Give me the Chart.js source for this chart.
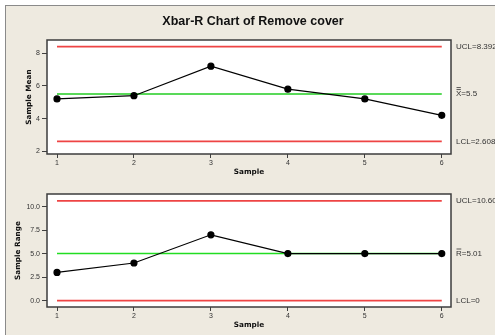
<!DOCTYPE html>
<html>
<head>
<meta charset="utf-8">
<script src="https://cdn.jsdelivr.net/npm/chart.js@4.4.1/dist/chart.umd.min.js"></script>
<style>
  html, body { margin: 0; padding: 0; background: #ffffff; }
  #frame {
    position: absolute; left: 0; top: 0; width: 495px; height: 335px; overflow: hidden;
    background: #ffffff;
  }
  #panel {
    position: absolute; left: 5px; top: 5px; width: 495px; height: 335px;
    background: #eeeae0; border-left: 1px solid #8a8a8a; border-top: 1px solid #8a8a8a;
  }
  canvas { position: absolute; left: 0; }
  #meanCanvas { top: 0; }
  #rangeCanvas { top: 180px; }
</style>
</head>
<body>
<div id="frame">
  <div id="panel"></div>
  <canvas id="meanCanvas" width="495" height="180"></canvas>
  <canvas id="rangeCanvas" width="495" height="155"></canvas>
</div>
<script>
// Subgroup numbers and the two statistics plotted for each subgroup
const samples = [1, 2, 3, 4, 5, 6];
const sampleMeans = [5.2, 5.4, 7.2, 5.8, 5.2, 4.2];
const sampleRanges = [3, 4, 7, 5, 5, 5];

// Control limits
const meanUCL = 8.392, meanCenter = 5.5, meanLCL = 2.608;
const rangeUCL = 10.60, rangeCenter = 5.01, rangeLCL = 0;

// Axis tick values
const sampleTicks = [1, 2, 3, 4, 5, 6];
const meanTicks = [2, 4, 6, 8];
const rangeTicks = [0, 2.5, 5, 7.5, 10];

const chartTitle = 'Xbar-R Chart of Remove cover';

const tickFont = { family: 'Liberation Sans', size: 7 };
const axisTitleFont = { family: 'DejaVu Sans', size: 7.3, weight: 'bold' };
const inkColor = '#333333';

function series(values) {
  return samples.map((s, i) => ({ x: s, y: values[i] }));
}
function level(v) {
  return samples.map(s => ({ x: s, y: v }));
}

// White plot area, dark frame, limit labels on the right
function plotDecor(limitLabels, title) {
  return {
    id: 'plotDecor',
    beforeDraw(chart) {
      const a = chart.chartArea, ctx = chart.ctx;
      ctx.save();
      ctx.fillStyle = '#ffffff';
      ctx.fillRect(a.left, a.top, a.right - a.left, a.bottom - a.top);
      ctx.restore();
    },
    afterDraw(chart) {
      const a = chart.chartArea, ctx = chart.ctx;
      const y = chart.scales.y;
      ctx.save();
      ctx.strokeStyle = '#3c3c3c';
      ctx.lineWidth = 1.5;
      ctx.strokeRect(a.left, a.top, a.right - a.left, a.bottom - a.top);

      ctx.font = '8px "Liberation Sans"';
      ctx.fillStyle = inkColor;
      ctx.textBaseline = 'middle';
      ctx.textAlign = 'left';
      const x0 = a.right + 5;
      limitLabels.forEach(l => {
        const py = y.getPixelForValue(l.value);
        ctx.fillText(l.text, x0, py);
        if (l.bars) {
          const w = ctx.measureText(l.text.charAt(0)).width;
          ctx.lineWidth = 0.8;
          ctx.strokeStyle = inkColor;
          for (let k = 0; k < l.bars; k++) {
            const by = py - 4.5 - k * 2;
            ctx.beginPath();
            ctx.moveTo(x0 + 0.5, by);
            ctx.lineTo(x0 + w - 0.5, by);
            ctx.stroke();
          }
        }
      });

      if (title) {
        ctx.font = 'bold 12.5px "Liberation Sans"';
        ctx.fillStyle = '#111111';
        ctx.textAlign = 'center';
        ctx.fillText(title, 253, 22);
      }
      ctx.restore();
    }
  };
}

function makeChart(canvasId, opts) {
  return new Chart(document.getElementById(canvasId), {
    type: 'line',
    data: {
      datasets: [
        {
          data: series(opts.values),
          borderColor: '#000000', borderWidth: 1.2,
          pointRadius: 3, pointBackgroundColor: '#000000', pointBorderColor: '#000000',
          tension: 0
        },
        { data: level(opts.center), borderColor: opts.centerColor, borderWidth: 1.5, pointRadius: 0 },
        { data: level(opts.ucl), borderColor: '#ee4444', borderWidth: 1.8, pointRadius: 0 },
        { data: level(opts.lcl), borderColor: '#ee4444', borderWidth: 1.8, pointRadius: 0 }
      ]
    },
    options: {
      responsive: false,
      animation: false,
      devicePixelRatio: 1,
      layout: { padding: { top: opts.padTop, right: 44, left: 0, bottom: 0 } },
      plugins: { legend: { display: false }, tooltip: { enabled: false } },
      scales: {
        x: {
          type: 'linear', min: 0.87, max: 6.12,
          afterBuildTicks: s => { s.ticks = sampleTicks.map(v => ({ value: v })); },
          afterFit: s => { s.height = opts.xHeight; },
          ticks: { font: tickFont, color: inkColor, padding: 1, maxRotation: 0, callback: v => String(v) },
          grid: { drawOnChartArea: false, drawTicks: true, tickLength: 4, color: '#404040' },
          border: { display: false },
          title: { display: true, text: 'Sample', font: axisTitleFont, color: '#111111',
                   padding: { top: 0, bottom: opts.xTitlePad } }
        },
        y: {
          type: 'linear', min: opts.yMin, max: opts.yMax,
          afterBuildTicks: s => { s.ticks = opts.ticks.map(v => ({ value: v })); },
          afterFit: s => { s.width = 47; },
          ticks: { font: tickFont, color: inkColor, padding: 2, callback: opts.fmt },
          grid: { drawOnChartArea: false, drawTicks: true, tickLength: 5, color: '#404040' },
          border: { display: false },
          title: { display: true, text: opts.yTitle, font: axisTitleFont, color: '#111111',
                   padding: { top: opts.yTitlePad, bottom: 0 } }
        }
      }
    },
    plugins: [plotDecor(opts.labels, opts.title)]
  });
}

makeChart('meanCanvas', {
  values: sampleMeans, center: meanCenter, ucl: meanUCL, lcl: meanLCL,
  centerColor: '#22cc22',
  yMin: 1.84, yMax: 8.8, ticks: meanTicks, fmt: v => String(v),
  yTitle: 'Sample Mean', yTitlePad: 24.6,
  padTop: 40, xHeight: 26, xTitlePad: 3.3,
  title: chartTitle,
  labels: [
    { value: meanUCL, text: 'UCL=' + meanUCL },
    { value: meanCenter, text: 'X=' + meanCenter, bars: 2 },
    { value: meanLCL, text: 'LCL=' + meanLCL }
  ]
});

makeChart('rangeCanvas', {
  values: sampleRanges, center: rangeCenter, ucl: rangeUCL, lcl: rangeLCL,
  centerColor: '#22dd22',
  yMin: -0.68, yMax: 11.34, ticks: rangeTicks, fmt: v => v.toFixed(1),
  yTitle: 'Sample Range', yTitlePad: 13.3,
  padTop: 14, xHeight: 28, xTitlePad: 5.6,
  title: null,
  labels: [
    { value: rangeUCL, text: 'UCL=' + rangeUCL.toFixed(2) },
    { value: rangeCenter, text: 'R=' + rangeCenter, bars: 1 },
    { value: rangeLCL, text: 'LCL=' + rangeLCL }
  ]
});
</script>
</body>
</html>
